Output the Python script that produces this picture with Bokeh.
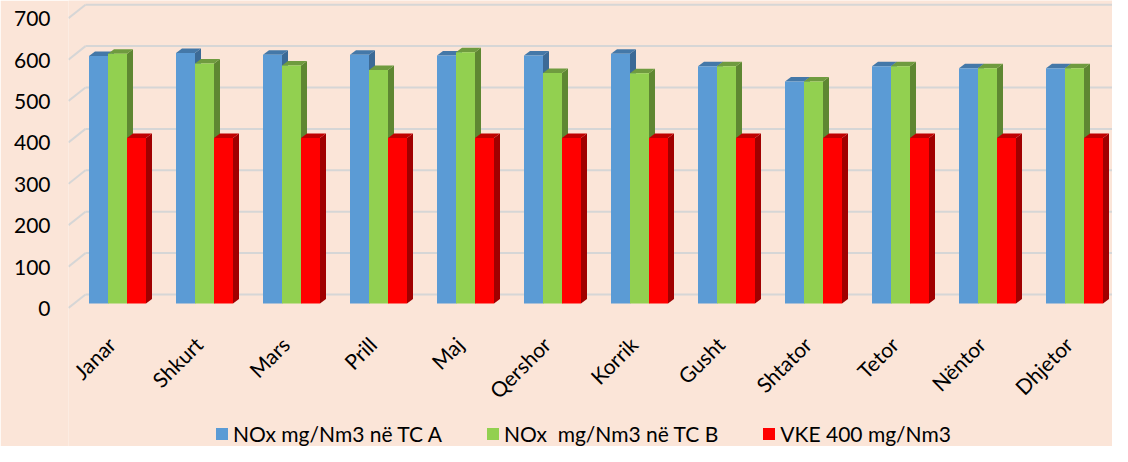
from math import pi
from bokeh.plotting import figure
from bokeh.models import Range1d, LinearAxis, FixedTicker, Legend, LegendItem
from bokeh.core.properties import value
from bokeh.embed import file_html
from bokeh.resources import INLINE

# ---- data ----
months = ["Janar", "Shkurt", "Mars", "Prill", "Maj", "Qershor", "Korrik",
          "Gusht", "Shtator", "Tetor", "Nëntor", "Dhjetor"]
nox_tc_a = [598, 605, 601, 601, 599, 599, 603, 573, 536, 573, 568, 568]
nox_tc_b = [603, 580, 575, 564, 607, 557, 556, 573, 536, 573, 568, 568]
vke_limit = [400, 400, 400, 400, 400, 400, 400, 400, 400, 400, 400, 400]
series_labels = ["NOx mg/Nm3 në TC A", "NOx  mg/Nm3 në TC B", "VKE 400 mg/Nm3"]
y_ticks = [0, 100, 200, 300, 400, 500, 600, 700]

# ---- style ----
BG = "#FBE5D8"
front_colors = ["#5B9BD5", "#92D050", "#FF0000"]
top_colors = ["#4478A8", "#6F9B3F", "#C00000"]
side_colors = ["#3C6A96", "#5E8732", "#A00000"]
FONT = "Lato"

W, H = 1112, 446
FRAME_L = 68
PX_CAT, PX_UNIT, BASE = 87.0, 0.414, 303.0
X0, X1 = (FRAME_L - 117) / PX_CAT, (W - 117) / PX_CAT
Y0, Y1 = -(H - BASE) / PX_UNIT, BASE / PX_UNIT
bar_w = 19 / PX_CAT
dx_bar, dy_bar = 6 / PX_CAT, 4.5 / PX_UNIT      # bar depth
dx_wall, dy_wall = 17 / PX_CAT, 9 / PX_UNIT     # back-wall offset
dy_front = 4.5 / PX_UNIT
label_y = -37 / PX_UNIT                         # month labels below floor

p = figure(width=W, height=H, output_backend="svg", toolbar_location=None,
           x_range=Range1d(X0, X1), y_range=Range1d(Y0, Y1),
           x_axis_location=None, y_axis_location=None,
           min_border_left=FRAME_L, min_border_right=0,
           min_border_top=0, min_border_bottom=0)
p.background_fill_color = BG
p.border_fill_color = BG
p.outline_line_color = None
p.xgrid.visible = False
p.ygrid.visible = False

# 3D-style gridlines (side wall diagonal + back wall)
n = len(y_ticks)
p.segment(x0=[X0] * n, y0=[t - dy_front for t in y_ticks],
          x1=[X0 + dx_wall] * n, y1=[t + dy_wall for t in y_ticks],
          line_color="#D6D6D6", line_width=2)
p.segment(x0=[X0 + dx_wall] * n, y0=[t + dy_wall for t in y_ticks],
          x1=[X1] * n, y1=[t + dy_wall for t in y_ticks],
          line_color="#D6D6D6", line_width=2)

renderers = []
for s, vals in enumerate([nox_tc_a, nox_tc_b, vke_limit]):
    off = (s - 1) * bar_w
    xc = [i + off for i in range(len(vals))]
    left = [x - bar_w / 2 for x in xc]
    right = [x + bar_w / 2 for x in xc]
    side_xs = [[r, r + dx_bar, r + dx_bar, r] for r in right]
    side_ys = [[0, dy_bar, v + dy_bar, v] for v in vals]
    top_xs = [[l, r, r + dx_bar, l + dx_bar] for l, r in zip(left, right)]
    top_ys = [[v, v, v + dy_bar, v + dy_bar] for v in vals]
    p.patches(side_xs, side_ys, fill_color=side_colors[s], line_color=None)
    p.patches(top_xs, top_ys, fill_color=top_colors[s], line_color=None)
    r = p.vbar(x=xc, top=vals, bottom=0, width=bar_w,
               fill_color=front_colors[s], line_color=None)
    renderers.append(r)

# month (category) labels, rotated 45 degrees
p.text(x=list(range(len(months))), y=[label_y] * len(months), text=months,
       angle=pi / 4, text_align="right", text_baseline="middle", x_offset=-6,
       text_font=value(FONT), text_font_size="21px", text_color="#000000")

# value axis
p.extra_y_ranges = {"lab": Range1d(Y0 + 12, Y1 + 12)}
yax = LinearAxis(y_range_name="lab", ticker=FixedTicker(ticks=y_ticks))
yax.axis_line_color = None
yax.major_tick_line_color = None
yax.minor_tick_line_color = None
yax.major_label_standoff = 12
yax.major_label_text_font = FONT
yax.major_label_text_font_size = "21px"
yax.major_label_text_color = "#000000"
p.add_layout(yax, "left")

legend = Legend(items=[LegendItem(label=lab, renderers=[r])
                       for lab, r in zip(series_labels, renderers)],
                orientation="horizontal", location=(146, 0),
                glyph_width=15, glyph_height=15, label_standoff=4, spacing=43,
                padding=0, margin=0, border_line_color=None,
                background_fill_alpha=0, label_text_font=FONT,
                label_text_font_size="21px", label_text_color="#000000")
p.add_layout(legend, "center")

open("out.html", "w").write(file_html(p, INLINE))
